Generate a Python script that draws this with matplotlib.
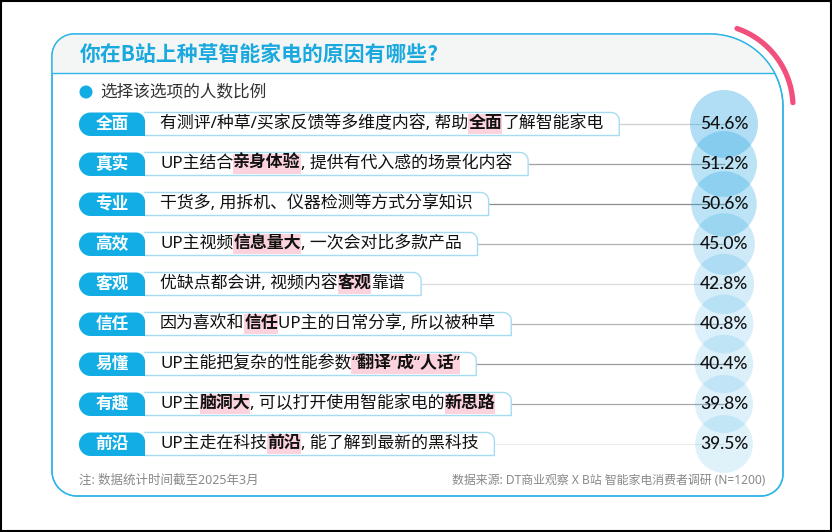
import matplotlib
matplotlib.use('Agg')
import matplotlib.pyplot as plt
from matplotlib.patches import PathPatch, Circle, Rectangle
from matplotlib.path import Path
import numpy as np

# ---------------- data ----------------
title = '你在B站上种草智能家电的原因有哪些?'
legend_label = '选择该选项的人数比例'
categories = ['全面', '真实', '专业', '高效', '客观', '信任', '易懂', '有趣', '前沿']
descriptions = [
    '有测评/种草/买家反馈等多维度内容, 帮助**全面**了解智能家电',
    'UP主结合**亲身体验**, 提供有代入感的场景化内容',
    '干货多, 用拆机、仪器检测等方式分享知识',
    'UP主视频**信息量大**, 一次会对比多款产品',
    '优缺点都会讲, 视频内容**客观**靠谱',
    '因为喜欢和**信任**UP主的日常分享, 所以被种草',
    'UP主能把复杂的性能参数**“翻译”成“人话”**',
    'UP主**脑洞大**, 可以打开使用智能家电的**新思路**',
    'UP主走在科技**前沿**, 能了解到最新的黑科技',
]
values = [54.6, 51.2, 50.6, 45.0, 42.8, 40.8, 40.4, 39.8, 39.5]
note = '注: 数据统计时间截至2025年3月'
source = '数据来源: DT商业观察 X B站 智能家电消费者调研 (N=1200)'

# ---------------- style ----------------
connector_colors = ['#cfcfcf', '#a0a0a0', '#8c8c8c', '#b0b0b0', '#dcdcdc',
                    '#b4b4b4', '#9a9a9a', '#a8a8a8', '#ececec']
BLUE = '#12ade4'
CJK = ['Noto Sans CJK SC', 'DejaVu Sans']
MIX = ['Noto Sans', 'Noto Sans CJK SC', 'DejaVu Sans']

W, H = 832, 532
fig = plt.figure(figsize=(W / 100, H / 100), dpi=100)
ax = fig.add_axes([0, 0, 1, 1])
ax.set_xlim(0, W)
ax.set_ylim(H, 0)
ax.axis('off')
renderer = fig.canvas.get_renderer()


def rounded_path(x0, y0, x1, y1, rtl, rtr, rbr, rbl, n=30):
    pts = []

    def arc(cx, cy, r, a0, a1):
        if r <= 0:
            return [(cx, cy)]
        t = np.linspace(np.radians(a0), np.radians(a1), n)
        return [(cx + r * np.cos(a), cy + r * np.sin(a)) for a in t]

    pts += arc(x0 + rtl, y0 + rtl, rtl, 180, 270)
    pts += arc(x1 - rtr, y0 + rtr, rtr, 270, 360)
    pts += arc(x1 - rbr, y1 - rbr, rbr, 0, 90)
    pts += arc(x0 + rbl, y1 - rbl, rbl, 90, 180)
    pts.append(pts[0])
    codes = [Path.MOVETO] + [Path.LINETO] * (len(pts) - 2) + [Path.CLOSEPOLY]
    return Path(pts, codes)


# outer frame
ax.add_patch(Rectangle((1, 1), W - 2.5, H - 2.5, fill=False, ec='black', lw=1.5, zorder=20))

# card
card_path = rounded_path(52, 34, 783, 496, 22, 73, 22, 25)
card = PathPatch(card_path, fc='white', ec='#2db5e8', lw=1.0, zorder=0.5)
ax.add_patch(card)
band = Rectangle((52, 34), 731, 39, fc='#f4f6f6', ec='none', zorder=0.6)
ax.add_patch(band)
band.set_clip_path(card)
sep, = ax.plot([52, 783], [73, 73], color='#2db5e8', lw=1.0, zorder=0.7)
sep.set_clip_path(card)
ax.add_patch(PathPatch(card_path, fc='none', ec='#2db5e8', lw=1.0, zorder=0.8))

# pink arc
th = np.radians(np.linspace(71, 3, 60))
ax.plot(710 + 83 * np.cos(th), 107 - 83 * np.sin(th), color='#f2507c', lw=3.8,
        solid_capstyle='round', zorder=3)

# title
ax.text(80, 54, title, fontsize=15, fontweight='bold', color='#1aa9de',
        family=CJK, ha='left', va='center', zorder=5)

# legend
ax.add_patch(Circle((86, 92), 6.5, fc=BLUE, ec='none', zorder=5))
ax.text(100, 92, legend_label, fontsize=12, color='#333333', family=CJK,
        fontweight='light', ha='left', va='center', zorder=5)

vmax, vmin = max(values), min(values)
cx = 724
for i, (cat, desc, v) in enumerate(zip(categories, descriptions, values)):
    cy = 124 + 40 * i
    top, bot = cy - 11.5, cy + 11.5

    # description text with highlighted segments
    x = 160
    parts = desc.split('**')
    for k, seg in enumerate(parts):
        if not seg:
            continue
        bold = (k % 2 == 1)
        t = ax.text(x, cy, seg, fontsize=12.2, family=MIX,
                    fontweight='bold' if bold else 'normal',
                    color='#111111', ha='left', va='center', zorder=6)
        w = t.get_window_extent(renderer).width
        if bold:
            ax.add_patch(Rectangle((x, cy - 10), w, 20, fc='#fcd2de', ec='none', zorder=5))
        x += w
    end = x + 16

    # text box
    r = 8
    bpts = [(145, top), (end - r, top)]
    tt = np.radians(np.linspace(270, 360, 20))
    bpts += [(end - r + r * np.cos(a), top + r + r * np.sin(a)) for a in tt]
    bpts += [(end, bot), (145, bot)]
    bx = [p[0] for p in bpts]
    by = [p[1] for p in bpts]
    ax.fill(bx, by, color='white', zorder=3)
    ax.plot(bx, by, color='#a6dcf2', lw=1.0, zorder=3.5)

    # pill label
    pill = PathPatch(rounded_path(79, top, 145, bot + 0.5, 11.5, 9, 0, 11.5),
                     fc=BLUE, ec='none', zorder=4)
    ax.add_patch(pill)
    ax.text(112, cy, cat, fontsize=12, fontweight='bold', color='white',
            family=CJK, ha='center', va='center', zorder=6)

    # connector
    ax.plot([end, cx], [cy, cy], color=connector_colors[i], lw=0.9, zorder=1)

    # bubble
    rad = 34 * np.sqrt(v / vmax)
    alpha = 0.15 + 0.22 * (v - vmin) / (vmax - vmin)
    ax.add_patch(Circle((cx, cy), rad, fc='#2ca8e4', ec='none', alpha=alpha, zorder=2))
    ax.text(cx, cy, f'{v:.1f}%', fontsize=12.5, family=['Lato', 'DejaVu Sans'],
            fontweight='medium', color='#111111', ha='center', va='center', zorder=6)

# footer
ax.text(79, 480, note, fontsize=9, color='#888888', family=MIX,
        ha='left', va='center', zorder=5)
ax.text(765, 480, source, fontsize=8.6, color='#888888', family=MIX,
        ha='right', va='center', zorder=5)

fig.savefig('out.png', dpi=100)
